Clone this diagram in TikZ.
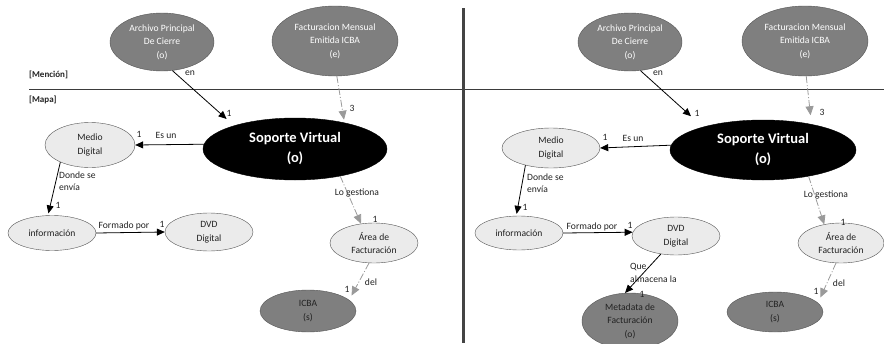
\documentclass[tikz,border=0pt]{standalone}
\usepackage{fontspec}
\setmainfont{Carlito}
\usetikzlibrary{shapes.geometric,arrows.meta}

\definecolor{nodegray}{HTML}{7F7F7F}
\definecolor{nodelight}{HTML}{EBEBEB}
\definecolor{rimgray}{HTML}{555555}
\definecolor{linkgray}{HTML}{9A9A9A}
\definecolor{inkgray}{HTML}{222222}

\begin{document}
\begin{tikzpicture}[x = 1pt, y = -1pt,
	darknode/.style = {ellipse, draw = rimgray, fill = nodegray, text = white, align = center, inner sep = 0pt, font = \fontsize{9.6}{13.5}\selectfont},
	lightnode/.style = {darknode, fill = nodelight, text = inkgray},
	ownnode/.style = {darknode, text = inkgray},
	corenode/.style = {darknode, fill = black, draw = black, font = \bfseries\fontsize{14.5}{20}\selectfont},
	link/.style = {draw = black, line width = 0.8pt, -{Triangle[length = 8pt, width = 7pt]}},
	weaklink/.style = {link, draw = linkgray, dash pattern = on 7pt off 2pt on 1pt off 2pt, -{Triangle[length = 9pt, width = 8pt]}},
	tag/.style = {text = inkgray, inner sep = 0pt, font = \fontsize{9.6}{12.5}\selectfont}]
	\useasboundingbox (0, 0) rectangle (884, 343);
	
	\draw[line width = 0.8pt, rimgray!70!black] (29, 89) -- (884, 89);
	\draw[line width = 3pt, rimgray!80!black] (463, 8) -- (463, 343);
	\node[tag, anchor = west, font = \bfseries\fontsize{9}{10}\selectfont] (mencion) at (29, 75) {[Mención]};
	\node[tag, anchor = west, font = \bfseries\fontsize{9}{10}\selectfont] (mapa) at (29, 100) {[Mapa]};
	
	\node[darknode, minimum width = 104, minimum height = 58] (arch) at (162, 42) {Archivo Principal\\De Cierre\\(o)};
	\node[darknode, minimum width = 126, minimum height = 70] (fact) at (335, 41) {Facturacion Mensual\\Emitida ICBA\\(e)};
	\node[corenode, minimum width = 184, minimum height = 62] (sop) at (295, 149) {Soporte Virtual\\(o)};
	\node[lightnode, minimum width = 90, minimum height = 45] (medio) at (90, 145) {Medio\\Digital};
	\node[lightnode, minimum width = 88, minimum height = 35] (info) at (52, 233) {información};
	\node[lightnode, minimum width = 88, minimum height = 38] (dvd) at (209, 232) {DVD\\Digital};
	\node[lightnode, minimum width = 88, minimum height = 40] (area) at (374, 243) {Área de\\Facturación};
	\node[ownnode, minimum width = 96, minimum height = 42] (icba) at (308, 311) {ICBA\\(s)};
	
	\draw[link, shorten > = 10pt] (arch.-70) -- (sop.159);
	\draw[weaklink, shorten > = 3pt] (fact.-87) -- (sop.28);
	\draw[link] (sop.177) -- (medio.east);
	\draw[link, shorten > = 2pt] (medio.210) -- (info.103);
	\draw[link] (info.east) -- (dvd.west);
	\draw[weaklink] (sop.-31) -- (area.124);
	\draw[weaklink, shorten > = 5pt] (area.-104) -- (icba.15);
	
	\node[tag] (enA) at (190, 73) {en};
	\node[tag] (esunA) at (166, 135) {Es un};
	\node[tag, anchor = west, align = left] (dondeA) at (59, 181) {Donde se\\envía};
	\node[tag] (formadoA) at (124, 226) {Formado por};
	\node[tag] (gestionaA) at (357, 193) {Lo gestiona};
	\node[tag] (delA) at (371, 282) {del};
	\foreach \name/\x/\y/\n in {cardA1/229/113/1, cardA2/352/108/3, cardA3/139/134/1, cardA4/58/205/1, cardA5/162/224/1, cardA6/375/219/1, cardA7/347/289/1}
	\node[tag] (\name) at (\x, \y) {\n};
	
	\node[darknode, minimum width = 104, minimum height = 58] (archB) at (630, 42) {Archivo Principal\\De Cierre\\(o)};
	\node[darknode, minimum width = 126, minimum height = 70] (factB) at (805, 41) {Facturacion Mensual\\Emitida ICBA\\(e)};
	\node[corenode, minimum width = 186, minimum height = 60] (sopB) at (763, 150) {Soporte Virtual\\(o)};
	\node[lightnode, minimum width = 98, minimum height = 40] (medioB) at (551, 148) {Medio\\Digital};
	\node[lightnode, minimum width = 88, minimum height = 34] (infoB) at (519, 233) {información};
	\node[lightnode, minimum width = 88, minimum height = 38] (dvdB) at (676, 236) {DVD\\Digital};
	\node[lightnode, minimum width = 86, minimum height = 40] (areaB) at (841, 243) {Área de\\Facturación};
	\node[ownnode, minimum width = 96, minimum height = 40] (icbaB) at (775, 312) {ICBA\\(s)};
	\node[ownnode, minimum width = 96, minimum height = 56] (metaB) at (630, 321) {Metadata de\\Facturación\\(o)};
	
	\draw[link, shorten > = 16pt] (archB.-70) -- (sopB.159);
	\draw[weaklink, shorten > = 9pt] (factB.-88) -- (sopB.28);
	\draw[link] (sopB.177) -- (medioB.east);
	\draw[link, shorten > = 2pt] (medioB.214) -- (infoB.99);
	\draw[link] (infoB.east) -- (dvdB.175);
	\draw[link] (dvdB.230) -- (metaB.100);
	\draw[weaklink] (sopB.-30) -- (areaB.132);
	\draw[weaklink, shorten > = 6pt] (areaB.-104) -- (icbaB.12);
	
	\node[tag] (enB) at (658, 73) {en};
	\node[tag] (esunB) at (633, 138) {Es un};
	\node[tag, anchor = west, align = left] (dondeB) at (527, 183) {Donde se\\envía};
	\node[tag] (formadoB) at (592, 227) {Formado por};
	\node[tag, anchor = west, align = left] (almacenaB) at (630, 273) {Que\\almacena la};
	\node[tag] (gestionaB) at (826, 195) {Lo gestiona};
	\node[tag] (delB) at (839, 283) {del};
	\foreach \name/\x/\y/\n in {cardB1/697/113/1, cardB2/822/112/3, cardB3/605/137/1, cardB4/525/207/1, cardB5/630/225/1, cardB6/843/222/1, cardB7/642/294/1, cardB8/816/291/1}
	\node[tag] (\name) at (\x, \y) {\n};
\end{tikzpicture}
\end{document}
